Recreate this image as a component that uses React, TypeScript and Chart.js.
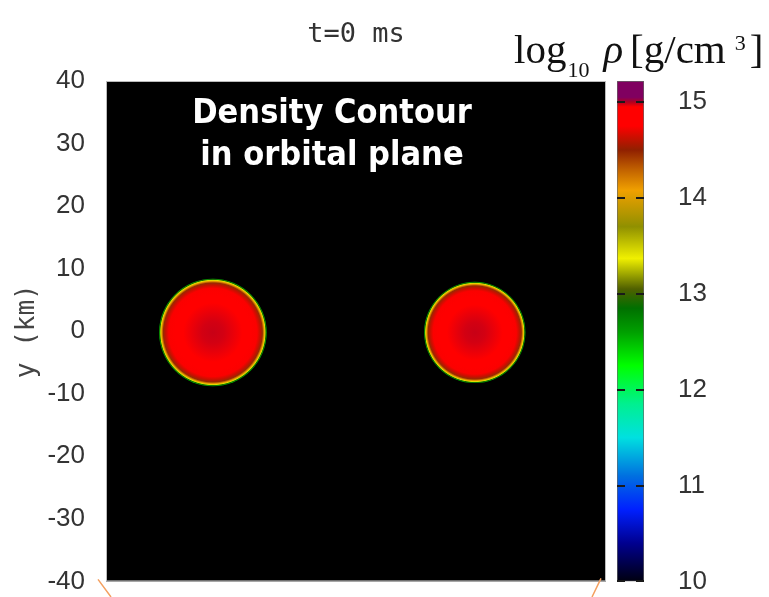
import React, { useEffect, useRef } from "react";
import { Chart, registerables } from "chart.js";

Chart.register(...registerables);

// ---- text ----
const TITLE = "t=0 ms";
const Y_LABEL = "y (km)";
const NOTE_LINES = ["Density Contour", "in orbital plane"];

// ---- axes ----
const X_RANGE = [-40, 40];
const Y_RANGE = [-40, 40];
const Y_STEP = 10;

// ---- stars (km) ----
const STAR_X = [-22.9, 19.0];
const STAR_Y = [-0.2, -0.2];
const STAR_RADIUS_KM = [8.6, 8.1];

// ---- radial density profile (fraction of radius -> log10 rho) ----
const PROFILE_FRAC = [0, 0.2, 0.4, 0.55, 0.7, 0.82, 0.88, 0.92, 0.95, 0.97, 0.985, 1.0];
const PROFILE_LOGRHO = [14.985, 14.978, 14.962, 14.94, 14.86, 14.74, 14.62, 14.47, 14.12, 13.42, 12.9, 12.5];

// ---- colour bar ----
const CB_RANGE = [10, 15.22];
const CB_STEP = 1;
const CMAP_VALUES = [10.0, 10.4, 10.75, 11.1, 11.5, 11.85, 12.25, 12.6, 12.85, 13.05, 13.37, 13.7, 14.08, 14.3, 14.5, 14.75, 14.95, 15.0, 15.05, 15.22];
const CMAP_COLORS = [
  "#000010", "#000090", "#0020ff", "#0070e0", "#00e0e0", "#00f090", "#00ff00", "#00a000",
  "#007000", "#506000", "#f0f000", "#909000", "#f0a000", "#c06000", "#902000", "#ff0000",
  "#ff0000", "#b00020", "#800060", "#800060",
];

function hexToRgb(h: string) {
  const n = parseInt(h.slice(1), 16);
  return [(n >> 16) & 255, (n >> 8) & 255, n & 255];
}

function cmap(v: number): string {
  if (v <= CMAP_VALUES[0]) return CMAP_COLORS[0];
  const last = CMAP_VALUES.length - 1;
  if (v >= CMAP_VALUES[last]) return CMAP_COLORS[last];
  let i = 0;
  while (i < last - 1 && v > CMAP_VALUES[i + 1]) i++;
  const t = (v - CMAP_VALUES[i]) / (CMAP_VALUES[i + 1] - CMAP_VALUES[i]);
  const a = hexToRgb(CMAP_COLORS[i]);
  const b = hexToRgb(CMAP_COLORS[i + 1]);
  const c = a.map((x, k) => Math.round(x + (b[k] - x) * t));
  return `rgb(${c[0]},${c[1]},${c[2]})`;
}

const TICK_FONT = { family: "'Liberation Sans', Arial, sans-serif", size: 26 };
const TICK_COLOR = "#333";

const ok = (...v: number[]) => v.every((x) => Number.isFinite(x));

export default function App() {
  const mainRef = useRef<HTMLCanvasElement | null>(null);
  const cbRef = useRef<HTMLCanvasElement | null>(null);

  useEffect(() => {
    if (!mainRef.current || !cbRef.current) return;

    const bgPlugin = {
      id: "blackArea",
      beforeDatasetsDraw(chart: any) {
        const { ctx, chartArea } = chart;
        ctx.save();
        ctx.fillStyle = "#000";
        ctx.fillRect(chartArea.left, chartArea.top, chartArea.right - chartArea.left, chartArea.bottom - chartArea.top);
        ctx.strokeStyle = "#bbb";
        ctx.lineWidth = 1;
        ctx.strokeRect(chartArea.left + 0.5, chartArea.top + 0.5, chartArea.right - chartArea.left - 1, chartArea.bottom - chartArea.top - 1);
        ctx.restore();
      },
      afterDraw(chart: any) {
        const { ctx, chartArea, height } = chart;
        ctx.save();
        ctx.strokeStyle = "#f4a060";
        ctx.lineWidth = 1.5;
        ctx.beginPath();
        ctx.moveTo(chartArea.left - 8, chartArea.bottom - 2);
        ctx.lineTo(chartArea.left + 5, height);
        ctx.moveTo(chartArea.right - 5, chartArea.bottom - 3);
        ctx.lineTo(chartArea.right - 14, height);
        ctx.stroke();
        ctx.restore();
      },
    };

    const pixRadius = (chart: any, rk: number) => {
      const ys = chart.scales.y;
      if (!ys) return NaN;
      return Math.abs(ys.getPixelForValue(rk) - ys.getPixelForValue(0));
    };

    const radiusFn = (c: any) => {
      if (!c.raw) return 0;
      const r = pixRadius(c.chart, c.raw.rk);
      return ok(r) ? r : 0;
    };

    const main = new Chart(mainRef.current, {
      type: "scatter",
      data: {
        datasets: [
          {
            data: STAR_X.map((x, i) => ({ x, y: STAR_Y[i], rk: STAR_RADIUS_KM[i] })) as any,
            showLine: false,
            pointRadius: radiusFn,
            pointHoverRadius: radiusFn,
            pointBorderWidth: 0,
            pointBackgroundColor: (c: any) => {
              const { chart, raw } = c;
              const xs = chart.scales.x;
              const ys = chart.scales.y;
              if (!raw || !xs || !ys) return "rgba(0,0,0,0)";
              const cx = xs.getPixelForValue(raw.x);
              const cy = ys.getPixelForValue(raw.y);
              const r = pixRadius(chart, raw.rk);
              if (!ok(cx, cy, r) || r <= 0) return "rgba(0,0,0,0)";
              const g = chart.ctx.createRadialGradient(cx, cy, 0, cx, cy, r);
              PROFILE_FRAC.forEach((f, i) => g.addColorStop(f, cmap(PROFILE_LOGRHO[i])));
              return g;
            },
          } as any,
        ],
      },
      options: {
        responsive: false,
        animation: false,
        events: [],
        layout: { autoPadding: false, padding: { top: 81, bottom: 15, left: 0, right: 0 } },
        plugins: { legend: { display: false }, tooltip: { enabled: false } },
        scales: {
          x: { type: "linear", min: X_RANGE[0], max: X_RANGE[1], display: false },
          y: {
            type: "linear",
            min: Y_RANGE[0],
            max: Y_RANGE[1],
            afterFit: (s: any) => {
              s.width = 106;
            },
            ticks: { stepSize: Y_STEP, color: TICK_COLOR, font: TICK_FONT, padding: 0 },
            grid: { display: false, drawTicks: true, tickLength: 21 },
            border: { display: false },
            title: {
              display: true,
              text: Y_LABEL,
              color: "#444",
              font: { family: "'DejaVu Sans Mono', monospace", size: 26 },
              padding: { top: 12, bottom: 0 },
            },
          },
        },
      } as any,
      plugins: [bgPlugin],
    });

    const cb = new Chart(cbRef.current, {
      type: "bar",
      data: {
        labels: [""],
        datasets: [
          {
            data: [[CB_RANGE[0], CB_RANGE[1]]] as any,
            borderColor: "#666",
            borderWidth: 1,
            borderSkipped: false,
            barPercentage: 1,
            categoryPercentage: 1,
            backgroundColor: (c: any) => {
              const { chart } = c;
              const ys = chart.scales.y;
              if (!ys || !chart.chartArea) return "#000";
              const y0 = ys.getPixelForValue(CB_RANGE[0]);
              const y1 = ys.getPixelForValue(CB_RANGE[1]);
              if (!ok(y0, y1) || y0 === y1) return "#000";
              const g = chart.ctx.createLinearGradient(0, y0, 0, y1);
              CMAP_VALUES.forEach((v, i) => {
                const f = Math.min(1, Math.max(0, (v - CB_RANGE[0]) / (CB_RANGE[1] - CB_RANGE[0])));
                g.addColorStop(f, CMAP_COLORS[i]);
              });
              return g;
            },
          } as any,
        ],
      },
      options: {
        responsive: false,
        animation: false,
        events: [],
        layout: { padding: { top: 81, bottom: 15, left: 11, right: 0 } },
        plugins: { legend: { display: false }, tooltip: { enabled: false } },
        scales: {
          x: { display: false },
          y: {
            position: "right",
            min: CB_RANGE[0],
            max: CB_RANGE[1],
            afterFit: (s: any) => {
              s.width = 125;
            },
            ticks: { stepSize: CB_STEP, includeBounds: false, padding: 0, color: TICK_COLOR, font: TICK_FONT },
            grid: { z: 1, drawTicks: true, tickLength: 34, tickColor: "rgba(0,0,0,0)", color: "#1a1a1a", lineWidth: 2 },
            border: { display: false, dash: [8, 11] },
          },
        },
      } as any,
    });

    return () => {
      main.destroy();
      cb.destroy();
    };
  }, []);

  return (
    <div style={{ position: "absolute", left: 0, top: 0, width: 769, height: 597, background: "#fff", overflow: "hidden" }}>
      <canvas ref={mainRef} width={606} height={597} style={{ position: "absolute", left: 0, top: 0 }} />
      <canvas ref={cbRef} width={163} height={597} style={{ position: "absolute", left: 606, top: 0 }} />
      <div
        style={{
          position: "absolute",
          left: 106,
          width: 500,
          top: 20,
          textAlign: "center",
          fontFamily: "'DejaVu Sans Mono', monospace",
          fontSize: 27,
          lineHeight: "26px",
          color: "#333",
          whiteSpace: "pre",
        }}
      >
        {TITLE}
      </div>
      <div
        style={{
          position: "absolute",
          left: 132,
          width: 400,
          top: 90,
          textAlign: "center",
          fontFamily: "'DejaVu Sans Condensed', 'DejaVu Sans', sans-serif",
          fontStretch: "condensed",
          fontWeight: "bold",
          fontSize: 34,
          lineHeight: "42px",
          color: "#fff",
        }}
      >
        {NOTE_LINES.map((l) => (
          <div key={l}>{l}</div>
        ))}
      </div>
      <div
        style={{
          position: "absolute",
          left: 514,
          top: 29,
          fontFamily: "'Liberation Serif', 'Times New Roman', serif",
          fontSize: 41,
          lineHeight: "41px",
          color: "#111",
          whiteSpace: "nowrap",
        }}
      >
        <span>log</span>
        <span style={{ fontSize: 22, lineHeight: "22px", verticalAlign: "-14px", marginLeft: 1 }}>10</span>
        <span style={{ fontStyle: "italic", marginLeft: 14 }}>ρ</span>
        <span style={{ marginLeft: 7 }}>[g/cm</span>
        <span style={{ fontSize: 22, lineHeight: "22px", verticalAlign: "13px", marginLeft: 9 }}>3</span>
        <span style={{ marginLeft: 4 }}>]</span>
      </div>
    </div>
  );
}
